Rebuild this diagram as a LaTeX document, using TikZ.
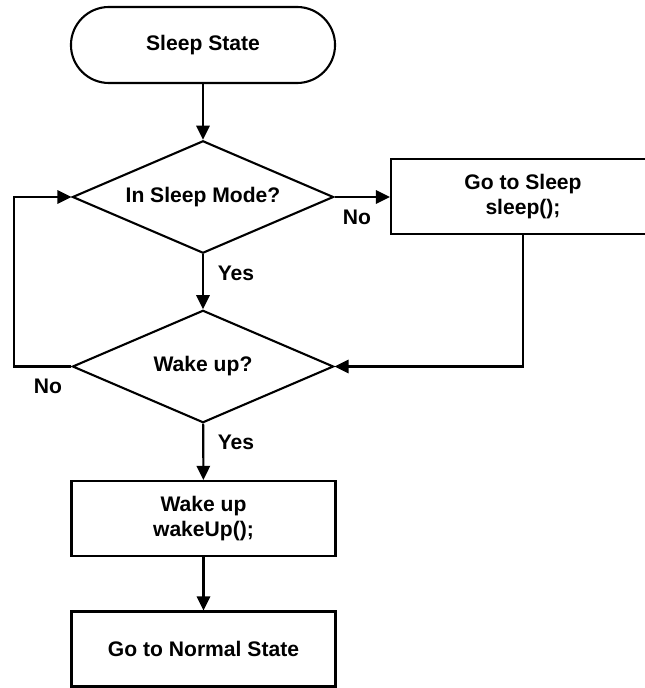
\documentclass[tikz,border=0pt]{standalone}
\usepackage{fontspec}
\setmainfont{Liberation Sans}
\usetikzlibrary{shapes.geometric,arrows.meta}

\tikzset{
  every node/.style={font=\bfseries\fontsize{15}{17.5}\selectfont},
  flowline/.style={line width=1.5pt},
  arr/.style={flowline, -{Triangle[length=10pt,width=9.5pt]}},
  terminal/.style={draw, flowline, rectangle, rounded corners=0.95cm, minimum width=6.6cm, minimum height=1.9cm},
  process/.style={draw, flowline, rectangle, minimum width=6.6cm, minimum height=1.875cm, align=center},
  decision/.style={draw, flowline, diamond, aspect=2.33, minimum width=6.525cm, minimum height=2.81cm, inner sep=0pt},
}

\begin{document}
\begin{tikzpicture}[x=0.025cm, y=-0.025cm]
				\useasboundingbox (0,0) rectangle (644,688);
				
				\node[terminal] (start) at (203,45) {Sleep State};
				\node[decision] (inSleep) at (203,197) {In Sleep Mode?};
				\node[process] (goSleep) at (523,196.5) {Go to Sleep\\sleep();};
				\node[decision] (wakeUp) at (203,366.5) {Wake up?};
				\node[process] (doWake) at (203.5,518.5) {Wake up\\wakeUp();};
				\node[process] (normal) at (203.5,649) {Go to Normal State};
				
				\node (noA) at (357,217) {No};
				\node (yesA) at (236,273) {Yes};
				\node (noB) at (48,386) {No};
				\node (yesB) at (236,442) {Yes};
				
				\coordinate (loop) at (14,366.5);
				
				\draw[arr] (start) -- (inSleep);
				\draw[arr] (inSleep.east) -- (inSleep.east -| goSleep.west);
				\draw[arr] (inSleep) -- (wakeUp);
				\draw[arr] (goSleep.south) |- (wakeUp.east);
				\draw[arr] (wakeUp.west) -- (loop) |- (inSleep.west);
				\draw[arr] (wakeUp) -- (doWake);
				\draw[arr] (doWake) -- (normal);
			\end{tikzpicture}
\end{document}
